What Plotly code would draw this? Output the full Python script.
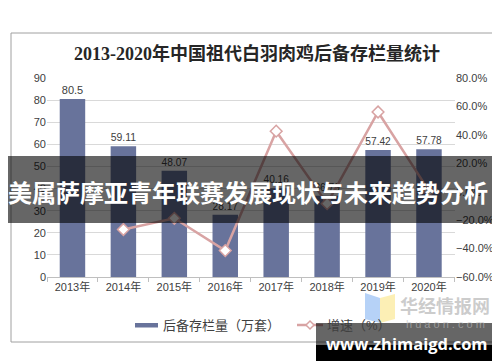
import plotly.graph_objects as go

years = ["2013年", "2014年", "2015年", "2016年", "2017年", "2018年", "2019年", "2020年"]
stock = [80.5, 59.11, 48.07, 28.17, 40.16, 36.79, 57.42, 57.78]
growth_years = years[1:]
growth = [-0.266, -0.187, -0.414, 0.426, -0.084, 0.561, 0.006]
bar_name = "后备存栏量（万套）"
line_name = "增速（%）"
title_text = "2013-2020年中国祖代白羽肉鸡后备存栏量统计"
banner_text = "美属萨摩亚青年联赛发展现状与未来趋势分析"
wm_text = "www.zhimaigd.com"

W, H = 500, 362
L, R, T, B = 39, 447, 70, 269  # plot area in pixels


def px(x):
    return (x - L) / (R - L)


def py(y):
    return (B - y) / (B - T)


BAR_C = "#68739b"
LINE_C = "#d8a3a3"
TXT_C = "#404040"
FONT = "Liberation Sans, Noto Sans CJK SC, sans-serif"

fig = go.Figure()
fig.add_trace(go.Bar(
    x=years, y=stock, name=bar_name, marker=dict(color=BAR_C, line=dict(width=0)),
    width=0.5, text=[f"{v:g}" for v in stock], textposition="outside",
    textfont=dict(size=11, color=TXT_C, family=FONT), cliponaxis=False,
))
fig.add_trace(go.Scatter(
    x=growth_years, y=growth, name=line_name, yaxis="y2", mode="lines+markers",
    line=dict(color=LINE_C, width=2.5),
    marker=dict(symbol="diamond", size=9, color="white", line=dict(color=LINE_C, width=1.5)),
    cliponaxis=False,
))

shapes = []
annotations = []
# outer frame
shapes.append(dict(type="rect", xref="paper", yref="paper", x0=px(3), x1=px(494), y0=py(334), y1=py(25),
                   line=dict(color="#a0a0a0", width=1), fillcolor="rgba(0,0,0,0)", layer="below"))
# title
annotations.append(dict(text="<b>" + title_text + "</b>", xref="paper", yref="paper", x=px(249), y=py(46),
                        showarrow=False, xanchor="center", yanchor="middle",
                        font=dict(size=18, color="#262626", family="Liberation Serif, Noto Sans CJK SC, serif")))
# legend (manual)
shapes.append(dict(type="rect", xref="paper", yref="paper", x0=px(127), x1=px(150), y0=py(319.5), y1=py(315),
                   line=dict(width=0), fillcolor=BAR_C))
annotations.append(dict(text=bar_name, xref="paper", yref="paper", x=px(153), y=py(317), showarrow=False,
                        xanchor="left", yanchor="middle", font=dict(size=13, color=TXT_C, family=FONT)))
shapes.append(dict(type="line", xref="paper", yref="paper", x0=px(289), x1=px(315), y0=py(317), y1=py(317),
                   line=dict(color=LINE_C, width=2.5)))
shapes.append(dict(type="path", xref="paper", yref="paper",
                   path=f"M {px(298)},{py(317)} L {px(302)},{py(313)} L {px(306)},{py(317)} L {px(302)},{py(321)} Z",
                   fillcolor="white", line=dict(color=LINE_C, width=1.5)))
annotations.append(dict(text=line_name, xref="paper", yref="paper", x=px(317), y=py(317), showarrow=False,
                        xanchor="left", yanchor="middle", font=dict(size=13, color=TXT_C, family=FONT)))
# huaon watermark logo
shapes.append(dict(type="path", xref="paper", yref="paper",
                   path=f"M {px(357)},{py(285)} L {px(372)},{py(290)} L {px(372)},{py(315)} L {px(357)},{py(311)} Z",
                   fillcolor="rgba(110,165,240,0.5)", line=dict(width=0), layer="above"))
shapes.append(dict(type="path", xref="paper", yref="paper",
                   path=f"M {px(372)},{py(290)} L {px(387)},{py(286)} L {px(387)},{py(311)} L {px(372)},{py(315)} Z",
                   fillcolor="rgba(250,225,120,0.55)", line=dict(width=0), layer="above"))
annotations.append(dict(text="<b>华经情报网</b>", xref="paper", yref="paper", x=px(437), y=py(297), showarrow=False,
                        xanchor="center", yanchor="middle",
                        font=dict(size=18, color="rgba(170,170,170,0.6)", family="Noto Sans CJK SC")))
annotations.append(dict(text="h u a o n . c o m", xref="paper", yref="paper", x=px(437), y=py(316), showarrow=False,
                        xanchor="center", yanchor="middle",
                        font=dict(size=11, color="rgba(190,190,190,0.6)", family=FONT)))
# banner
shapes.append(dict(type="rect", xref="paper", yref="paper", x0=px(0), x1=px(500), y0=py(215), y1=py(148),
                   line=dict(width=0), fillcolor="rgba(0,0,0,0.6)", layer="above"))
annotations.append(dict(text="<b>" + banner_text + "</b>", xref="paper", yref="paper", x=px(240), y=py(183),
                        showarrow=False, xanchor="center", yanchor="middle",
                        font=dict(size=24, color="white", family="Noto Sans CJK SC")))
# site watermark box
shapes.append(dict(type="rect", xref="paper", yref="paper", x0=px(308), x1=px(491), y0=py(337), y1=py(315),
                   line=dict(width=0), fillcolor="rgba(0,0,0,0.6)", layer="above"))
shapes.append(dict(type="rect", xref="paper", yref="paper", x0=px(308), x1=px(491), y0=py(353), y1=py(337),
                   line=dict(width=0), fillcolor="black", layer="above"))
annotations.append(dict(text="<b>" + wm_text + "</b>", xref="paper", yref="paper", x=px(399), y=py(335),
                        showarrow=False, xanchor="center", yanchor="middle",
                        font=dict(size=16.5, color="white", family="Open Sans, DejaVu Sans")))

fig.update_layout(
    width=W, height=H,
    margin=dict(l=L, r=W - R, t=T, b=H - B, pad=0),
    paper_bgcolor="white", plot_bgcolor="white",
    showlegend=False,
    bargap=0.5,
    font=dict(family=FONT, size=11, color=TXT_C),
    xaxis=dict(type="category", showgrid=False, showline=True, linecolor="#bfbfbf", linewidth=1,
               ticks="outside", tickson="boundaries", ticklen=4, tickcolor="#bfbfbf",
               tickfont=dict(size=11, color=TXT_C), fixedrange=True),
    yaxis=dict(range=[0, 90], dtick=10, showgrid=True, gridcolor="#d9d9d9", gridwidth=1,
               zeroline=False, showline=False, ticks="", tickfont=dict(size=11, color=TXT_C)),
    yaxis2=dict(range=[-0.6, 0.8], dtick=0.2, tickformat=".1%", overlaying="y", side="right",
                showgrid=False, zeroline=False, showline=False, ticks="",
                tickfont=dict(size=11, color=TXT_C)),
    shapes=shapes, annotations=annotations,
)

fig.write_html("out.html")
